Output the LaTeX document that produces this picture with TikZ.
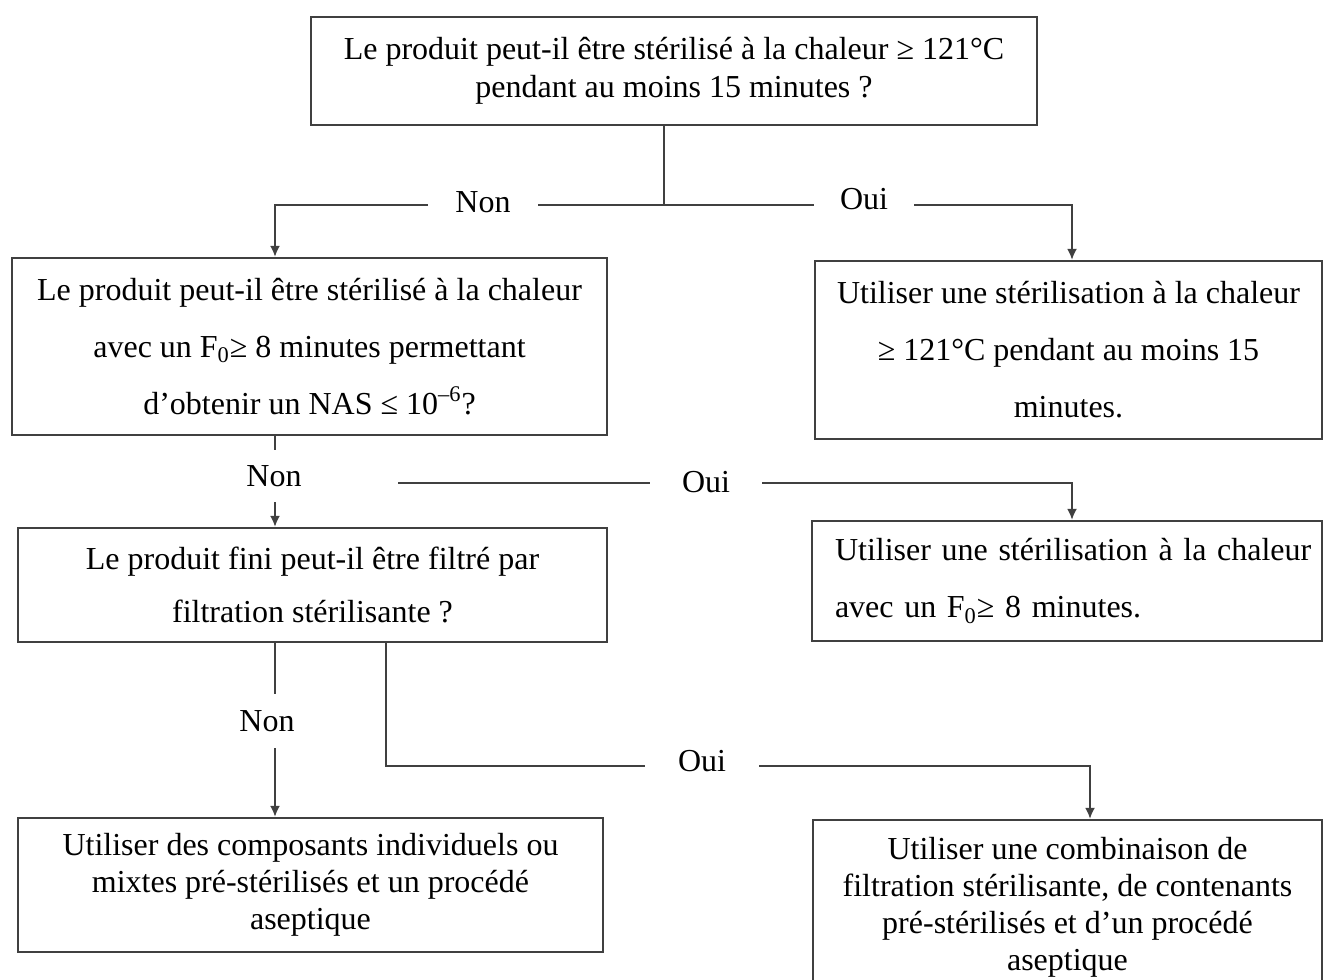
\documentclass[tikz,border=0pt]{standalone}
\usepackage{fontspec}
\setmainfont{Liberation Serif}
\usetikzlibrary{arrows.meta}
\begin{document}
\begin{tikzpicture}[x=0.5pt,y=-0.5pt,
  box/.style={draw=black!75, line width=1.2pt, inner sep=0pt, align=center},
  lbl/.style={inner xsep=13.5pt, inner ysep=2pt, font=\fontsize{16}{18}\selectfont},
  conn/.style={draw=black!75, line width=0.9pt},
  arr/.style={conn, -{Latex[length=5.5pt,width=5pt]}},
  fA/.style={font=\fontsize{16}{19}\selectfont},
  fB/.style={font=\fontsize{16}{28.5}\selectfont},
  fC/.style={font=\fontsize{16}{26.5}\selectfont},
  fD/.style={font=\fontsize{16}{18.5}\selectfont}]
\clip (0,0) rectangle (1324,980);
\fill[white] (0,0) rectangle (1324,980);

% boxes
\node[box, fA, minimum width=363pt, minimum height=54pt] (q1) at (674,71)
  {Le produit peut-il être stérilisé à la chaleur ≥ 121°C\\pendant au moins 15 minutes ?};
\node[box, fB, minimum width=297.5pt, minimum height=88.5pt] (q2) at (309.5,346.5)
  {Le produit peut-il être stérilisé à la chaleur\\avec un F\textsubscript{0}≥ 8 minutes permettant\\d’obtenir un NAS ≤ 10\textsuperscript{–6}?};
\node[box, fB, minimum width=253.5pt, minimum height=89pt] (q3) at (1068.5,350)
  {Utiliser une stérilisation à la chaleur\\≥ 121°C pendant au moins 15\\minutes.};
\node[box, fC, minimum width=294.5pt, minimum height=57pt] (q4) at (312.5,585)
  {Le produit fini peut-il être filtré par\\filtration stérilisante ?};
\node[box, fB, align=left, text width=250pt, minimum width=255pt, minimum height=60pt] (q5) at (1067,581)
  {\hspace*{9pt}Utiliser une stérilisation à la chaleur\\\hspace*{9pt}avec un F\textsubscript{0}≥ 8 minutes.};
\node[box, fD, minimum width=292.5pt, minimum height=67pt] (q6) at (310.5,885)
  {Utiliser des composants individuels ou\\mixtes pré-stérilisés et un procédé\\aseptique};
\node[box, fD, minimum width=254.5pt, minimum height=87.5pt] (q7) at (1067.5,907.5)
  {Utiliser une combinaison de\\filtration stérilisante, de contenants\\pré-stérilisés et d’un procédé\\aseptique};

% helper columns
\coordinate (x275) at (275,0);
\coordinate (x386) at (386,0);
\coordinate (x1072) at (1072,0);
\coordinate (x1090) at (1090,0);

% level 1
\coordinate (t1) at (664,205);
\node[lbl] (non1) at (483,202) {Non};
\node[lbl, inner xsep=13pt] (oui1) at (864,199) {Oui};
\draw[conn] (q1.south -| t1) -- (t1);
\draw[conn] (t1) -- (t1 -| non1.east);
\draw[arr] (t1 -| non1.west) -| (q2.north -| x275);
\draw[conn] (t1) -- (t1 -| oui1.west);
\draw[arr] (t1 -| oui1.east) -| (q3.north -| x1072);

% level 2
\node[lbl, inner ysep=7.5pt] (non2) at (274,476) {Non};
\coordinate (s2) at (398,483);
\node[lbl, inner xsep=16pt] (oui2) at (706,482) {Oui};
\draw[conn] (q2.south -| x275) -- (non2.north -| x275);
\draw[arr] (non2.south -| x275) -- (q4.north -| x275);
\draw[conn] (s2) -- (s2 -| oui2.west);
\draw[arr] (s2 -| oui2.east) -| (q5.north -| x1072);

% level 3
\node[lbl, inner ysep=8pt] (non3) at (267,721) {Non};
\coordinate (t3) at (386,766);
\node[lbl, inner xsep=16.5pt] (oui3) at (702,761) {Oui};
\draw[conn] (q4.south -| x275) -- (non3.north -| x275);
\draw[arr] (non3.south -| x275) -- (q6.north -| x275);
\draw[conn] (q4.south -| x386) -- (t3) -- (t3 -| oui3.west);
\draw[arr] (t3 -| oui3.east) -| (q7.north -| x1090);
\end{tikzpicture}
\end{document}
